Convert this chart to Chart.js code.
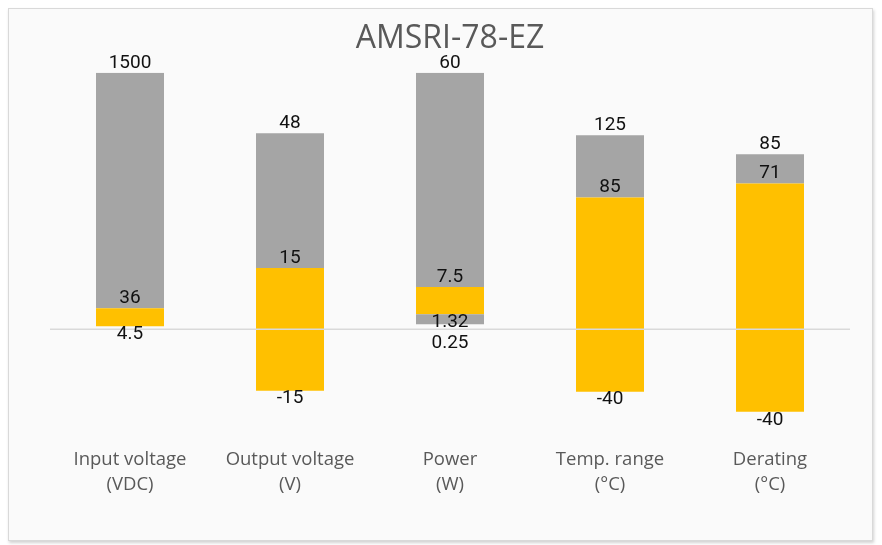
<!DOCTYPE html>
<html>
<head>
<meta charset="utf-8">
<script src="https://cdn.jsdelivr.net/npm/chart.js@4/dist/chart.umd.min.js"></script>
<style>
    html, body { margin: 0; padding: 0; background: #ffffff; }
    #panel {
        position: absolute; left: 8px; top: 8px; width: 863px; height: 531px;
        background: #fafafa; border: 1px solid #d9d9d9;
        box-shadow: 1px 2px 3px rgba(0, 0, 0, 0.18);
    }
    #graph { position: absolute; left: 0; top: 0; }
</style>
</head>
<body>
<div id="panel"></div>
<canvas id="graph" width="882" height="545"></canvas>
<script>
// Categories (2 lignes chacune)
let categories = [
    ["Input voltage", "(VDC)"],
    ["Output voltage", "(V)"],
    ["Power", "(W)"],
    ["Temp. range", "(°C)"],
    ["Derating", "(°C)"]
];

// Hauteurs dessinees (echelle propre a chaque barre)
let lowGrayBars = [null, null, [5, 15], null, null];
let orangeBars = [[3, 21], [-61, 61], [15, 42], [-62, 131], [-82, 145]];
let topGrayBars = [[21, 255], [61, 195], [42, 255], [131, 193], [145, 174]];

// Valeurs affichees
let maxLabels = ["1500", "48", "60", "125", "85"];
let midLabels = ["36", "15", "7.5", "85", "71"];
let minLabels = ["4.5", "-15", "1.32", "-40", "-40"];
let lowLabels = [null, null, "0.25", null, null];

const GRAY = "#a5a5a5";
const ORANGE = "#ffc000";

// Plugin pour la ligne du zero et les etiquettes
const labelsPlugin = {
    id: "valueLabels",
    afterDatasetsDraw(chart) {
        const ctx = chart.ctx;
        const y0 = chart.scales.y.getPixelForValue(0);

        ctx.save();
        ctx.strokeStyle = "#d9d9d9";
        ctx.lineWidth = 1.5;
        ctx.beginPath();
        ctx.moveTo(chart.chartArea.left, y0);
        ctx.lineTo(chart.chartArea.right, y0);
        ctx.stroke();

        ctx.font = "19px Roboto";
        ctx.fillStyle = "#111111";
        ctx.textAlign = "center";
        ctx.textBaseline = "middle";

        const orangeMeta = chart.getDatasetMeta(1);
        const topMeta = chart.getDatasetMeta(2);

        categories.forEach((cat, i) => {
            let top = topMeta.data[i];
            let orange = orangeMeta.data[i];
            ctx.fillText(maxLabels[i], top.x, top.y - 10);
            ctx.fillText(midLabels[i], orange.x, orange.y - 10);
            ctx.fillText(minLabels[i], orange.x, orange.base + 8);
            if (lowLabels[i]) {
                ctx.fillText(lowLabels[i], orange.x, y0 + 14);
            }
        });
        ctx.restore();
    }
};

window.onload = function () {
    new Chart(document.getElementById("graph"), {
        type: "bar",
        data: {
            labels: categories,
            datasets: [
                { data: lowGrayBars, backgroundColor: GRAY },
                { data: orangeBars, backgroundColor: ORANGE },
                { data: topGrayBars, backgroundColor: GRAY }
            ]
        },
        options: {
            responsive: false,
            animation: false,
            devicePixelRatio: 1,
            barPercentage: 0.85,
            categoryPercentage: 0.5,
            layout: { padding: { left: 50, right: 32, top: 0, bottom: 43 } },
            plugins: {
                legend: { display: false },
                tooltip: { enabled: false },
                title: {
                    display: true,
                    text: "AMSRI-78-EZ",
                    color: "#595959",
                    font: { family: "'Open Sans', sans-serif", size: 32, weight: "normal", lineHeight: 1.15 },
                    padding: { top: 20, bottom: 16 }
                }
            },
            scales: {
                x: {
                    stacked: true,
                    grid: { display: false, drawTicks: false },
                    border: { display: false },
                    ticks: {
                        color: "#595959",
                        padding: 5,
                        maxRotation: 0,
                        autoSkip: false,
                        font: { family: "'Open Sans', sans-serif", size: 18.5, lineHeight: 1.35 }
                    }
                },
                y: {
                    display: false,
                    min: -112,
                    max: 255
                }
            }
        },
        plugins: [labelsPlugin]
    });
};
</script>
</body>
</html>
